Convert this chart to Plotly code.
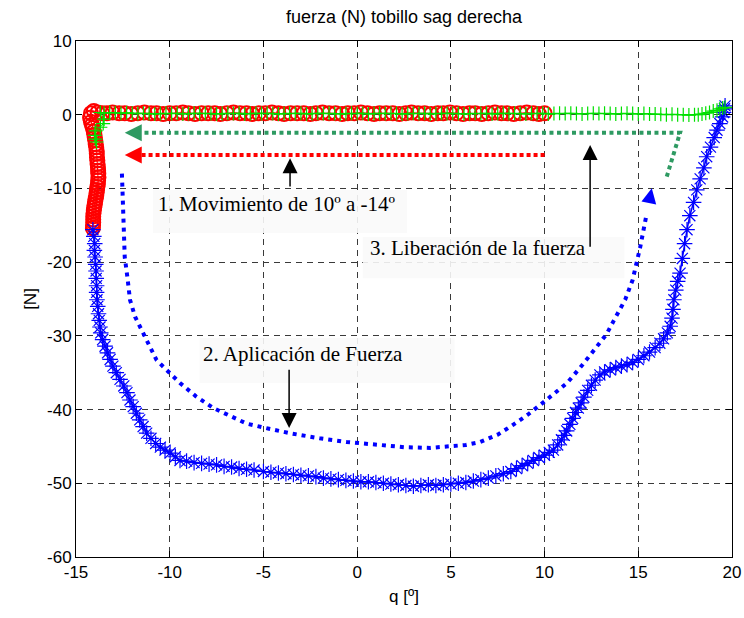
import plotly.graph_objects as go

# --- measured trajectories -------------------------------------------------
# 1. movement phase: ankle rotated from 10 deg to -14 deg, then loaded
mov_q = [10.0, 9.7, 9.4, 9.05, 8.7, 8.35, 8.0, 7.7, 7.35, 7.0, 6.65, 6.3, 6.0, 5.65,
         5.3, 4.95, 4.6, 4.3, 3.95, 3.6, 3.25, 2.9, 2.6, 2.25, 1.9, 1.55, 1.2, 0.9,
         0.55, 0.2, -0.15, -0.5, -0.8, -1.15, -1.5, -1.85, -2.2, -2.5, -2.85, -3.2,
         -3.55, -3.9, -4.2, -4.55, -4.9, -5.25, -5.6, -5.9, -6.25, -6.6, -6.95, -7.3,
         -7.6, -7.95, -8.3, -8.65, -9.0, -9.3, -9.65, -10.0, -10.35, -10.7, -11.0,
         -11.35, -11.7, -12.05, -12.4, -12.7, -13.05, -13.35, -13.6, -13.85, -14.05,
         -14.2, -14.25, -14.2, -14.15, -14.1, -14.05, -14.02, -14.0, -13.97, -13.95,
         -13.92, -13.9, -13.89, -13.88, -13.86, -13.85, -13.83, -13.82, -13.81,
         -13.8, -13.82, -13.83, -13.86, -13.88, -13.9, -13.92, -13.95, -13.98,
         -14.0, -14.03, -14.05, -14.07, -14.08, -14.08, -14.08, -14.09, -14.1]
mov_f = [0.2, 0.1, 0.2, 0.3, 0.2, 0.1, 0.2, 0.2, 0.3, 0.2, 0.1, 0.2, 0.2, 0.1,
         0.2, 0.3, 0.2, 0.2, 0.1, 0.2, 0.2, 0.3, 0.2, 0.1, 0.2, 0.2, 0.2, 0.1,
         0.2, 0.3, 0.2, 0.2, 0.1, 0.2, 0.2, 0.3, 0.2, 0.1, 0.2, 0.2,
         0.2, 0.1, 0.2, 0.3, 0.2, 0.2, 0.1, 0.2, 0.2, 0.3, 0.2, 0.1,
         0.2, 0.2, 0.2, 0.1, 0.2, 0.3, 0.2, 0.2, 0.1, 0.2, 0.2,
         0.3, 0.2, 0.1, 0.2, 0.2, 0.3, 0.2, 0.2, 0.3, 0.5,
         0.2, -0.4, -1.0, -1.4, -1.8, -2.3, -2.7, -3.1, -3.5, -4.0,
         -4.4, -4.9, -5.3, -5.8, -6.2, -6.7, -7.1, -7.6, -8.0,
         -8.5, -8.9, -9.4, -9.8, -10.2, -10.6, -11.0, -11.4, -11.8,
         -12.2, -12.6, -13.0, -13.4, -13.8, -14.2, -14.6, -15.0, -15.4, -16.0]

# 2. force application at the ankle
app_q = [-14.10, -14.05, -14.00, -14.02, -13.98, -13.95, -13.93, -13.92, -13.90,
         -13.90, -13.88, -13.84, -13.80, -13.76, -13.72, -13.68, -13.58, -13.45,
         -13.32, -13.18, -13.03, -12.85, -12.65, -12.45, -12.28, -12.12, -11.95,
         -11.78, -11.60, -11.42, -11.23, -11.00, -10.75, -10.50, -10.25, -9.98,
         -9.70, -9.45, -9.1, -8.7, -8.3, -7.9, -7.5, -7.1, -6.7, -6.3, -5.9, -5.5,
         -5.0, -4.6, -4.2, -3.8, -3.4, -3.0, -2.6, -2.2, -1.8, -1.4, -1.0, -0.6,
         -0.2, 0.2, 0.6, 1.0, 1.4, 1.8, 2.2, 2.6, 3.0, 3.4, 3.8, 4.2, 4.6, 5.0,
         5.4, 5.8, 6.2, 6.6, 7.0, 7.4, 7.8, 8.2, 8.5, 8.8, 9.1, 9.4, 9.7, 10.0,
         10.25, 10.47, 10.7, 10.9, 11.05, 11.18, 11.35, 11.5, 11.65, 11.8, 11.95,
         12.1, 12.3, 12.5, 12.7, 12.95, 13.2, 13.5, 13.8, 14.1, 14.4, 14.7, 15.0,
         15.3, 15.6, 15.9, 16.15, 16.35, 16.55, 16.7, 16.8, 16.85, 16.9, 17.0,
         17.1, 17.23, 17.35, 17.47, 17.6, 17.75, 17.95, 18.12, 18.3, 18.5, 18.65,
         18.85, 19.05, 19.2, 19.35, 19.5, 19.55, 19.6, 19.63]
app_f = [-15.6, -16.5, -17.5, -18.4, -19.3, -20.3, -21.2, -22.2, -23.2,
         -24.1, -25.1, -26.0, -27.0, -27.9, -28.8, -29.6, -30.5, -31.4,
         -32.3, -33.2, -34.1, -35.0, -35.9, -36.8, -37.7, -38.7, -39.6,
         -40.5, -41.4, -42.3, -43.2, -43.9, -44.6, -45.1, -45.5, -45.9,
         -46.4, -46.9, -47.0, -47.2, -47.3, -47.4, -47.5, -47.7, -47.8, -48.0,
         -48.1, -48.2, -48.4, -48.5, -48.6, -48.7, -48.8, -48.9, -49.0, -49.1,
         -49.3, -49.4, -49.5, -49.6, -49.7, -49.8, -49.8, -49.9, -50.0, -50.1,
         -50.2, -50.3, -50.4, -50.3, -50.2, -50.3, -50.2, -50.1, -50.0, -49.9,
         -49.7, -49.5, -49.3, -49.0, -48.7, -48.4, -48.0, -47.6, -47.3, -46.9,
         -46.5, -46.2, -45.8, -45.5, -44.8, -44.1, -43.5, -42.9, -42.0, -41.2,
         -40.4, -39.8, -39.1, -38.3, -37.4, -36.7, -36.0, -35.3, -34.9, -34.6,
         -34.3, -34.1, -33.9, -33.6, -33.2, -32.7, -32.2, -31.6, -31.0, -30.4,
         -29.6, -28.7, -27.6, -26.4, -25.1, -23.8, -22.6, -21.5, -19.5, -17.5,
         -15.6, -13.7, -11.9, -10.2, -8.7, -7.2, -5.7, -4.4, -3.1, -2.1, -1.2,
         -0.3, 0.3, 0.8, 1.2]

# 3. force release, back towards -14 deg
rel_q = [19.63, 19.5, 19.35, 19.2, 19.0, 18.8, 18.6, 18.4, 18.2, 18.0, 17.7, 17.4,
         17.1, 16.8, 16.5, 16.2, 15.9, 15.6, 15.3, 15.0, 14.7, 14.4, 14.1, 13.8,
         13.5, 13.2, 12.9, 12.6, 12.3, 12.0, 11.7, 11.4, 11.1, 10.8, 10.5, 10.2,
         9.9, 9.6, 9.3, 9.0, 8.7, 8.4, 8.1, 7.8, 7.5, 7.2, 6.9, 6.6, 6.3, 6.0,
         5.7, 5.4, 5.1, 4.8, 4.5, 4.2, 3.9, 3.6, 3.3, 3.0, 2.7, 2.4, 2.1, 1.8,
         1.5, 1.2, 0.9, 0.6, 0.3, 0.0, -0.3, -0.6, -0.9, -1.2, -1.5, -1.8, -2.1,
         -2.4, -2.7, -3.0, -3.3, -3.6, -3.9, -4.2, -4.5, -4.8, -5.1, -5.4, -5.7,
         -6.0, -6.3, -6.6, -6.9, -7.2, -7.5, -7.8, -8.1, -8.4, -8.7, -9.0, -9.3,
         -9.6, -9.9, -10.2, -10.5, -10.8, -11.1, -11.4, -11.7, -12.0, -12.3,
         -12.6, -12.9, -13.2, -13.5, -13.7, -13.5, -13.55, -13.7, -13.95, -14.0,
         -13.97, -13.9]
rel_f = [1.0, 0.9, 0.8, 0.6, 0.5, 0.3, 0.2, 0.1, 0.0, 0.0, -0.05, 0.0,
         0.0, 0.05, 0.0, 0.05, 0.1, 0.1, 0.15, 0.1, 0.15, 0.2, 0.15, 0.1,
         0.15, 0.2, 0.15, 0.2, 0.15, 0.1, 0.15, 0.2, 0.15, 0.2, 0.15, 0.1,
         0.2, 0.15, 0.2, 0.1, 0.15, 0.2, 0.15, 0.2, 0.15, 0.1, 0.2, 0.15,
         0.2, 0.15, 0.1, 0.15, 0.2, 0.15, 0.2, 0.15, 0.1, 0.2, 0.15, 0.2,
         0.15, 0.1, 0.15, 0.2, 0.15, 0.2, 0.15, 0.1, 0.2, 0.15, 0.2, 0.15,
         0.1, 0.15, 0.2, 0.15, 0.2, 0.15, 0.1, 0.2, 0.15, 0.2, 0.15, 0.1,
         0.15, 0.2, 0.15, 0.2, 0.15, 0.1, 0.2, 0.15, 0.2, 0.15, 0.1, 0.15,
         0.2, 0.15, 0.2, 0.15, 0.1, 0.2, 0.15, 0.2, 0.15, 0.1, 0.15, 0.2,
         0.15, 0.2, 0.25, 0.2, 0.25, 0.3, 0.2, 0.3, -0.6, -1.2, -1.7, -2.2,
         -2.8, -3.3, -3.7]

# --- schematic phase arrows ------------------------------------------------
mov_arrow_q = [10.0, -11.5]
mov_arrow_f = [-5.47, -5.47]
mov_arrow_tip = (-12.4, -5.47)

rel_arrow_q = [16.52, 17.23, -11.5]
rel_arrow_f = [-8.4, -2.44, -2.44]
rel_arrow_tip = (-12.4, -2.44)

app_arrow_q = [-12.55, -12.5, -12.45, -12.4, -12.25, -12.12, -11.85, -11.23, -10.7,
               -9.45, -8.6, -7.67, -6.8, -5.9, -4.7, -3.6, -2.0, -0.55, 1.22, 2.5,
               3.9, 4.96, 5.8, 6.56, 7.5, 8.3, 9.1, 9.9, 10.6, 11.2, 12.0, 12.8,
               13.3, 13.7, 14.3, 14.7, 15.1, 15.45]
app_arrow_f = [-8.0, -11.0, -15.0, -19.3, -22.2, -25.1, -27.4, -30.6, -33.3,
               -36.4, -38.2, -39.8, -40.9, -41.9, -42.6, -43.2, -43.9, -44.4, -44.8,
               -45.1, -45.2, -45.0, -44.8, -44.4, -43.4, -42.1, -40.7, -39.1, -37.7,
               -36.4, -34.0, -31.5, -29.8, -27.9, -25.1, -22.4, -18.0, -13.4]
app_arrow_tip = (15.72, -9.98)

phase_labels = ["1. Movimiento de 10º a -14º",
                "2. Aplicación de Fuerza",
                "3. Liberación de la fuerza"]

x_ticks = [-15, -10, -5, 0, 5, 10, 15, 20]
x_tick_text = ["-15", "-10", "-5", "0", "5", "10", "15", "20"]
y_ticks = [-60, -50, -40, -30, -20, -10, 0, 10]
y_tick_text = ["-60", "-50", "-40", "-30", "-20", "-10", "0", "10"]

RED = "#ff0000"
BLUE = "#0000ff"
LIME = "#00e000"
SEA = "#2e9a62"
SERIF = "Liberation Serif, Times New Roman, serif"
SANS = "Liberation Sans, Arial, sans-serif"

fig = go.Figure()

# measured data (red under blue under green)
fig.add_trace(go.Scatter(
    x=mov_q, y=mov_f, mode="lines+markers",
    line=dict(color=RED, width=1),
    marker=dict(symbol="circle-open", size=14, color=RED, line=dict(width=2, color=RED)),
    showlegend=False, hoverinfo="skip"))
fig.add_trace(go.Scatter(
    x=app_q, y=app_f, mode="lines+markers",
    line=dict(color=BLUE, width=1.5),
    marker=dict(symbol="asterisk-open", size=13, color=BLUE, line=dict(width=1.2, color=BLUE)),
    showlegend=False, hoverinfo="skip"))
fig.add_trace(go.Scatter(
    x=rel_q, y=rel_f, mode="lines+markers",
    line=dict(color=LIME, width=1),
    marker=dict(symbol="cross-thin-open", size=10, color=LIME, line=dict(width=1.2, color=LIME)),
    showlegend=False, hoverinfo="skip"))

# dotted phase arrows
for xs, ys, col, dash in [(mov_arrow_q, mov_arrow_f, RED, "4px,3px"),
                          (rel_arrow_q, rel_arrow_f, SEA, "4px,3.5px"),
                          (app_arrow_q, app_arrow_f, BLUE, "4px,5px")]:
    fig.add_trace(go.Scatter(x=xs, y=ys, mode="lines",
                             line=dict(color=col, width=4, dash=dash),
                             showlegend=False, hoverinfo="skip"))

annotations = []
# arrow heads of the dotted phase arrows
for tip, col, ax, ay, size in [(mov_arrow_tip, RED, 10, 0, 1.7),
                               (rel_arrow_tip, SEA, 10, 0, 1.7),
                               (app_arrow_tip, BLUE, -2, 10, 1.5)]:
    annotations.append(dict(x=tip[0], y=tip[1], xref="x", yref="y", text="",
                            showarrow=True, arrowhead=2, arrowsize=size, arrowwidth=2,
                            arrowcolor=col, ax=ax, ay=ay))

# black pointer arrows
for (x0, y0, x1, y1) in [(-3.58, -9.95, -3.58, -5.9),
                         (-3.63, -34.4, -3.63, -42.5),
                         (12.43, -18.1, 12.43, -4.1)]:
    annotations.append(dict(x=x1, y=y1, ax=x0, ay=y0, xref="x", yref="y",
                            axref="x", ayref="y", text="", showarrow=True,
                            arrowhead=2, arrowsize=2, arrowwidth=1.5,
                            arrowcolor="black"))

# phase labels
for label, (lx, ly) in zip(phase_labels, [(-10.75, -12.1), (-8.35, -32.4), (0.6, -18.1)]):
    annotations.append(dict(x=lx, y=ly, xref="x", yref="y", text=label,
                            showarrow=False, xanchor="left", yanchor="middle",
                            font=dict(family=SERIF, size=21, color="black")))

# light label boxes that mask the grid behind the text
shapes = []
for (x0, x1, y0, y1) in [(-10.9, 2.66, -10.2, -16.05),
                         (-8.4, 5.2, -30.3, -36.4),
                         (0.3, 14.25, -16.6, -22.2)]:
    shapes.append(dict(type="rect", xref="x", yref="y", x0=x0, x1=x1, y0=y0, y1=y1,
                       fillcolor="rgba(250,250,250,0.9)", line=dict(width=0),
                       layer="between"))

axis_common = dict(
    showline=True, linecolor="black", linewidth=1, mirror="ticks",
    ticks="inside", ticklen=6, tickcolor="black", tickwidth=1,
    showgrid=True, gridcolor="#3a3a3a", gridwidth=1, griddash="6px,5px",
    zeroline=False, automargin=False,
    tickfont=dict(family=SANS, size=17, color="black"),
)

fig.update_layout(
    width=744, height=618,
    margin=dict(l=76, r=12, t=41, b=61),
    paper_bgcolor="white", plot_bgcolor="white",
    title=dict(text="fuerza (N) tobillo sag derecha", x=0.5, xref="paper",
               y=1 - 17 / 618, yref="container", yanchor="middle",
               font=dict(family=SANS, size=18, color="black")),
    xaxis=dict(range=[-15, 20], tickvals=x_ticks, ticktext=x_tick_text,
               title=dict(text="q [º]", font=dict(family=SANS, size=17, color="black"),
                          standoff=8),
               **axis_common),
    yaxis=dict(range=[-60, 10], tickvals=y_ticks, ticktext=y_tick_text,
               title=dict(text="[N]", font=dict(family=SANS, size=17, color="black"),
                          standoff=6),
               **axis_common),
    annotations=annotations,
    shapes=shapes,
)

fig.write_html("out.html")
